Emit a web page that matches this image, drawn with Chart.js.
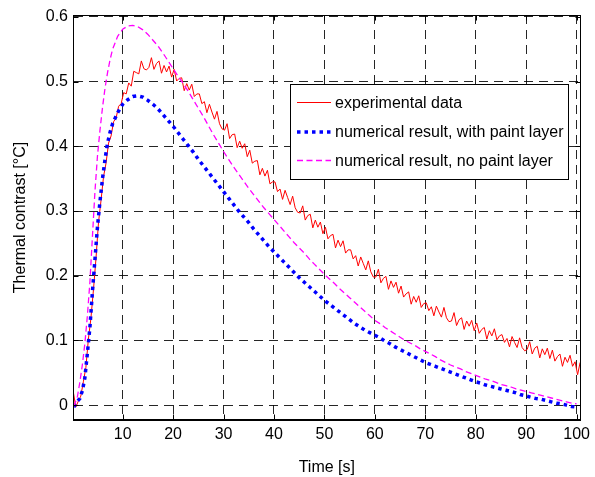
<!DOCTYPE html>
<html>
<head>
<meta charset="utf-8">
<script src="https://cdn.jsdelivr.net/npm/chart.js@4.4.0/dist/chart.umd.min.js"></script>
<style>
    html, body { margin: 0; padding: 0; background: #fff; }
    #wrap { position: relative; width: 595px; height: 477px; }
</style>
</head>
<body>
<div id="wrap"><canvas id="chart" width="595" height="477"></canvas></div>
<script>
// Thermal contrast vs time: measurement and two simulations

// experimental trace, one sample every 0.5 s starting at 0.2 s
const expStart = 0.2;
const expStep = 0.5;
const expValues = [
    0.021, -0.003, 0.006, 0.014, 0.036, 0.058, 0.102, 0.134, 0.178, 0.226,
    0.282, 0.316, 0.353, 0.374, 0.405, 0.416, 0.438, 0.444, 0.462, 0.466,
    0.483, 0.481, 0.498, 0.493, 0.516, 0.514, 0.512, 0.532, 0.520, 0.518,
    0.522, 0.537, 0.519, 0.528, 0.532, 0.513, 0.525, 0.515, 0.524, 0.507,
    0.519, 0.501, 0.505, 0.506, 0.486, 0.497, 0.487, 0.496, 0.477, 0.481,
    0.481, 0.466, 0.469, 0.452, 0.465, 0.453, 0.442, 0.454, 0.435, 0.427,
    0.425, 0.435, 0.412, 0.418, 0.419, 0.398, 0.408, 0.397, 0.404, 0.384,
    0.394, 0.374, 0.377, 0.378, 0.356, 0.366, 0.354, 0.363, 0.342, 0.345,
    0.345, 0.330, 0.334, 0.318, 0.332, 0.321, 0.310, 0.323, 0.305, 0.298,
    0.297, 0.308, 0.286, 0.293, 0.295, 0.274, 0.286, 0.275, 0.283, 0.265,
    0.275, 0.257, 0.262, 0.264, 0.243, 0.255, 0.245, 0.254, 0.235, 0.240,
    0.240, 0.226, 0.231, 0.215, 0.229, 0.219, 0.209, 0.223, 0.206, 0.198,
    0.198, 0.210, 0.189, 0.196, 0.199, 0.179, 0.192, 0.182, 0.190, 0.173,
    0.184, 0.167, 0.172, 0.175, 0.156, 0.168, 0.159, 0.169, 0.151, 0.157,
    0.158, 0.146, 0.152, 0.138, 0.153, 0.144, 0.136, 0.151, 0.135, 0.129,
    0.130, 0.143, 0.123, 0.132, 0.135, 0.117, 0.130, 0.122, 0.131, 0.115,
    0.127, 0.111, 0.117, 0.120, 0.102, 0.115, 0.107, 0.118, 0.101, 0.107,
    0.109, 0.097, 0.103, 0.090, 0.106, 0.097, 0.089, 0.104, 0.089, 0.084,
    0.086, 0.098, 0.079, 0.088, 0.091, 0.073, 0.087, 0.078, 0.088, 0.072,
    0.085, 0.068, 0.075, 0.079, 0.060, 0.074, 0.066, 0.077, 0.060, 0.067,
    0.047, 0.066
];

// simulation time points: half seconds at the start, then whole seconds
const modelTime = [0.3, 1, 1.5, 2, 2.5, 3, 3.5, 4, 4.5, 5, 5.5, 6, 6.5, 7, 7.5]
    .concat(Array.from({length: 93}, (_, i) => 8 + i));

const withPaint = [
    -0.003, 0.006, 0.010, 0.022, 0.042, 0.080, 0.120, 0.175, 0.225, 0.275, 0.315, 0.350, 0.380, 0.405, 0.422,
    0.435, 0.452, 0.465, 0.472, 0.477, 0.478, 0.476, 0.471, 0.465, 0.458, 0.449, 0.440, 0.431,
    0.421, 0.411, 0.401, 0.391, 0.380, 0.370, 0.360, 0.350, 0.340, 0.330,
    0.320, 0.310, 0.300, 0.291, 0.282, 0.272, 0.263, 0.254, 0.245, 0.237,
    0.229, 0.221, 0.213, 0.205, 0.197, 0.190, 0.183, 0.176, 0.169, 0.162,
    0.156, 0.150, 0.144, 0.138, 0.132, 0.126, 0.121, 0.116, 0.112, 0.108,
    0.104, 0.099, 0.095, 0.090, 0.086, 0.082, 0.078, 0.074, 0.070, 0.066,
    0.063, 0.060, 0.057, 0.054, 0.051, 0.048, 0.045, 0.042, 0.039, 0.036,
    0.034, 0.031, 0.029, 0.027, 0.025, 0.023, 0.021, 0.019, 0.016, 0.014,
    0.012, 0.010, 0.009, 0.007, 0.005, 0.003, 0.002, 0.000, -0.002, -0.003
];

const noPaint = [
    -0.002, 0.012, 0.035, 0.062, 0.095, 0.138, 0.190, 0.260, 0.330, 0.385, 0.425, 0.460, 0.490, 0.514, 0.534,
    0.550, 0.570, 0.581, 0.586, 0.587, 0.585, 0.580, 0.573, 0.564, 0.555, 0.544, 0.532, 0.520,
    0.508, 0.497, 0.485, 0.472, 0.459, 0.446, 0.432, 0.418, 0.405, 0.392,
    0.380, 0.368, 0.357, 0.346, 0.335, 0.325, 0.315, 0.305, 0.296, 0.287,
    0.278, 0.269, 0.260, 0.251, 0.243, 0.235, 0.226, 0.218, 0.210, 0.202,
    0.195, 0.188, 0.180, 0.173, 0.166, 0.159, 0.152, 0.145, 0.138, 0.131,
    0.126, 0.120, 0.115, 0.110, 0.105, 0.100, 0.096, 0.092, 0.087, 0.083,
    0.079, 0.075, 0.070, 0.066, 0.062, 0.059, 0.056, 0.052, 0.049, 0.046,
    0.043, 0.040, 0.038, 0.035, 0.032, 0.030, 0.028, 0.025, 0.023, 0.021,
    0.019, 0.017, 0.015, 0.013, 0.011, 0.009, 0.007, 0.005, 0.003, 0.002
];

const xTicks = [10, 20, 30, 40, 50, 60, 70, 80, 90, 100];
const yTicks = [0, 0.1, 0.2, 0.3, 0.4, 0.5, 0.6];
const seriesNames = [
    'experimental data',
    'numerical result, with paint layer',
    'numerical result, no paint layer'
];

const FONT = "'Liberation Sans', Arial, Helvetica, sans-serif";
const styles = [
    {color: '#ff0000', width: 1, dash: []},
    {color: '#0000ff', width: 3.5, dash: [3.5, 4]},
    {color: '#ff00ff', width: 1.3, dash: [6, 3.5]}
];

const expPoints = expValues.map((v, i) => ({x: expStart + i * expStep, y: v}));
const paintPoints = withPaint.map((v, i) => ({x: modelTime[i], y: v}));
const noPaintPoints = noPaint.map((v, i) => ({x: modelTime[i], y: v}));

// box round the plot with inward tick marks on all four sides
const framePlugin = {
    id: 'frame',
    afterDatasetsDraw(chart) {
        const {ctx, chartArea: a, scales: {x, y}} = chart;
        const L = Math.round(a.left) + 0.5, R = Math.round(a.right) - 0.5;
        const T = Math.round(a.top) + 0.5, B = Math.round(a.bottom) - 0.5;
        ctx.save();
        ctx.strokeStyle = '#000';
        ctx.lineWidth = 1;
        ctx.setLineDash([]);
        ctx.beginPath();
        xTicks.forEach(t => {
            const px = Math.round(x.getPixelForValue(t)) + 0.5;
            ctx.moveTo(px, B); ctx.lineTo(px, B - 5);
            ctx.moveTo(px, T); ctx.lineTo(px, T + 5);
        });
        yTicks.forEach(t => {
            const py = Math.round(y.getPixelForValue(t)) + 0.5;
            ctx.moveTo(L, py); ctx.lineTo(L + 5, py);
            ctx.moveTo(R, py); ctx.lineTo(R - 5, py);
        });
        ctx.stroke();
        ctx.strokeRect(L, T, R - L, B - T);
        ctx.restore();
    }
};

// legend box inside the plot, upper right
const legendPlugin = {
    id: 'boxLegend',
    afterDraw(chart) {
        const ctx = chart.ctx;
        const box = {x: 290.5, y: 84.5, w: 278, h: 95};
        const rows = [102.5, 132, 160.5];
        ctx.save();
        ctx.fillStyle = '#fff';
        ctx.fillRect(box.x, box.y, box.w, box.h);
        ctx.strokeStyle = '#000';
        ctx.lineWidth = 1;
        ctx.strokeRect(box.x, box.y, box.w, box.h);
        ctx.font = '16px ' + FONT;
        ctx.textBaseline = 'middle';
        seriesNames.forEach((name, i) => {
            const s = styles[i];
            ctx.beginPath();
            ctx.strokeStyle = s.color;
            ctx.lineWidth = s.width;
            ctx.setLineDash(s.dash);
            ctx.moveTo(297, rows[i]);
            ctx.lineTo(331, rows[i]);
            ctx.stroke();
            ctx.setLineDash([]);
            ctx.fillStyle = '#000';
            ctx.fillText(name, 335, rows[i] + 1);
        });
        ctx.restore();
    }
};

const makeSet = (label, data, i, order) => ({
    label: label,
    data: data,
    borderColor: styles[i].color,
    borderWidth: styles[i].width,
    borderDash: styles[i].dash,
    pointRadius: 0,
    tension: 0,
    fill: false,
    order: order
});

new Chart(document.getElementById('chart'), {
    type: 'line',
    data: {
        datasets: [
            makeSet(seriesNames[0], expPoints, 0, 3),
            makeSet(seriesNames[1], paintPoints, 1, 2),
            makeSet(seriesNames[2], noPaintPoints, 2, 1)
        ]
    },
    options: {
        responsive: false,
        animation: false,
        layout: {padding: {top: 15, right: 8, left: 0, bottom: 0}},
        plugins: {legend: {display: false}, tooltip: {enabled: false}},
        scales: {
            x: {
                type: 'linear',
                min: 0.15,
                max: 100.8,
                afterBuildTicks: scale => { scale.ticks = xTicks.map(v => ({value: v})); },
                afterFit: scale => { scale.height = 57; },
                grid: {color: 'rgba(0,0,0,0.85)', lineWidth: 1, drawTicks: false},
                border: {display: true, color: '#000', width: 1, dash: [9, 6]},
                ticks: {
                    color: '#000',
                    padding: 5,
                    maxRotation: 0,
                    autoSkip: false,
                    font: {family: FONT, size: 16},
                    callback: v => String(v)
                },
                title: {
                    display: true,
                    text: 'Time [s]',
                    color: '#000',
                    font: {family: FONT, size: 16},
                    padding: {top: 0, bottom: 0}
                }
            },
            y: {
                type: 'linear',
                min: -0.023,
                max: 0.603,
                afterBuildTicks: scale => { scale.ticks = yTicks.map(v => ({value: v})); },
                afterFit: scale => { scale.width = 73; },
                grid: {color: 'rgba(0,0,0,0.85)', lineWidth: 1, drawTicks: false},
                border: {display: true, color: '#000', width: 1, dash: [9, 6]},
                ticks: {
                    color: '#000',
                    padding: 5,
                    autoSkip: false,
                    font: {family: FONT, size: 16},
                    callback: v => String(Math.round(v * 10) / 10)
                },
                title: {
                    display: true,
                    text: 'Thermal contrast [°C]',
                    color: '#000',
                    font: {family: FONT, size: 16},
                    padding: {top: 11, bottom: 0}
                }
            }
        }
    },
    plugins: [framePlugin, legendPlugin]
});
</script>
</body>
</html>
